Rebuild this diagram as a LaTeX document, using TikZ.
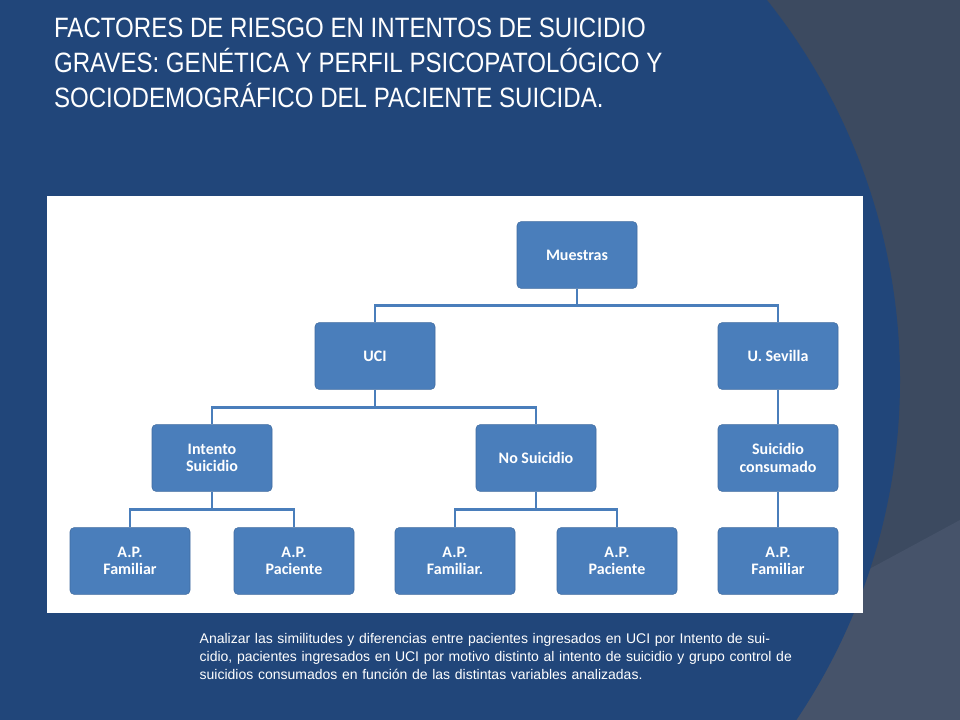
\documentclass[tikz,border=0pt]{standalone}
\usepackage{fontspec}
\setmainfont{Liberation Sans}
\newfontfamily\boxfont{Carlito}
\usetikzlibrary{positioning}
\definecolor{slideblue}{HTML}{21467A}
\definecolor{slidegray}{HTML}{3C4A60}
\definecolor{slidegray2}{HTML}{46536A}
\definecolor{boxblue}{HTML}{4A7EBB}
\begin{document}
\begin{tikzpicture}[x=0.75pt,y=-0.75pt,
    block/.style={draw=boxblue!85!black, fill=boxblue, rounded corners=3pt,
      minimum width=90pt, minimum height=50pt, align=center, text=white,
      font=\boxfont\bfseries\fontsize{12}{13}\selectfont},
    link/.style={boxblue, line width=2.2pt}]
  % Background
  \useasboundingbox (0,0) rectangle (960,720);
  \clip (0,0) rectangle (960,720);
  \fill[slidegray] (0,0) rectangle (960,720);
  \fill[slidegray2] (590,720) -- (960,520) -- (960,720) -- cycle;
  \fill[slideblue] (291,380) circle[radius=609];
  % Title
  \node[anchor=north west, align=left, text=white, xscale=0.86,
    font=\fontsize{21}{26.5}\selectfont] (title) at (50,13)
    {FACTORES DE RIESGO EN INTENTOS DE SUICIDIO\\
     GRAVES: GENÉTICA Y PERFIL PSICOPATOLÓGICO Y\\
     SOCIODEMOGRÁFICO DEL PACIENTE SUICIDA.};
  % Panel
  \fill[white] (47,196) rectangle (863,613);
  % Nodes
  \node[block] (muestras) at (577,255) {Muestras};
  \node[block] (uci) at (375,356) {UCI};
  \node[block] (sevilla) at (778,356) {U. Sevilla};
  \node[block] (intento) at (212,458) {Intento\\Suicidio};
  \node[block] (nosuic) at (536,458) {No Suicidio};
  \node[block] (consumado) at (778,458) {Suicidio\\consumado};
  \node[block] (famA) at (130,561) {A.P.\\Familiar};
  \node[block] (pacA) at (294,561) {A.P.\\Paciente};
  \node[block] (famB) at (455,561) {A.P.\\Familiar.};
  \node[block] (pacB) at (617,561) {A.P.\\Paciente};
  \node[block] (famC) at (778,561) {A.P.\\Familiar};
  % Links
  \draw[link] (muestras.south) -- ++(0,17) -| (uci.north);
  \draw[link] (muestras.south) -- ++(0,17) -| (sevilla.north);
  \draw[link] (uci.south) -- ++(0,18) -| (intento.north);
  \draw[link] (uci.south) -- ++(0,18) -| (nosuic.north);
  \draw[link] (sevilla) -- (consumado);
  \draw[link] (intento.south) -- ++(0,18) -| (famA.north);
  \draw[link] (intento.south) -- ++(0,18) -| (pacA.north);
  \draw[link] (nosuic.south) -- ++(0,18) -| (famB.north);
  \draw[link] (nosuic.south) -- ++(0,18) -| (pacB.north);
  \draw[link] (consumado) -- (famC);
  % Caption
  \node[anchor=north west, align=left, text=white, text width=445pt,
    font=\fontsize{10.5}{13.5}\selectfont\raggedright] (caption) at (195,629)
    {Analizar las similitudes y diferencias entre pacientes ingresados en UCI por Intento de suicidio, pacientes ingresados en UCI por motivo distinto al intento de suicidio y grupo control de suicidios consumados en función de las distintas variables analizadas.};
\end{tikzpicture}
\end{document}
